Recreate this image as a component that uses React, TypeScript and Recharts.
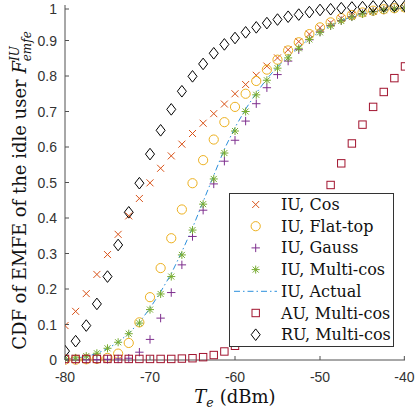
import { ComposedChart, Scatter, Line, XAxis, YAxis, Legend } from 'recharts';

// Threshold T_e (dBm) at which each CDF sample is taken
const te = [
  -80, -78.75, -77.5, -76.25, -75, -73.75, -72.5, -71.25, -70, -68.75, -67.5,
  -66.25, -65, -63.75, -62.5, -61.25, -60, -58.75, -57.5, -56.25, -55, -53.75,
  -52.5, -51.25, -50, -48.75, -47.5, -46.25, -45, -43.75, -42.5, -41.25, -40,
];

const iuCos = [
  0.097, 0.137, 0.187, 0.241, 0.297, 0.354, 0.406, 0.455, 0.499, 0.54, 0.575,
  0.608, 0.638, 0.667, 0.694, 0.721, 0.75, 0.776, 0.802, 0.828, 0.851, 0.874,
  0.897, 0.918, 0.936, 0.95, 0.962, 0.971, 0.978, 0.983, 0.987, 0.99, 0.992,
];
const iuFlatTop = [
  0.001, 0.001, 0.002, 0.003, 0.006, 0.018, 0.048, 0.106, 0.177, 0.259, 0.343,
  0.424, 0.498, 0.563, 0.621, 0.67, 0.713, 0.75, 0.786, 0.818, 0.846, 0.872,
  0.895, 0.918, 0.937, 0.951, 0.963, 0.972, 0.979, 0.984, 0.988, 0.991, 0.993,
];
const iuGauss = [
  0.0, 0.0, 0.001, 0.001, 0.002, 0.003, 0.005, 0.022, 0.058, 0.118, 0.19,
  0.268, 0.348, 0.422, 0.496, 0.56, 0.619, 0.673, 0.722, 0.767, 0.804, 0.842,
  0.874, 0.902, 0.924, 0.942, 0.956, 0.967, 0.976, 0.982, 0.986, 0.989, 0.992,
];
const iuMultiCos = [
  0.003, 0.006, 0.011, 0.019, 0.033, 0.05, 0.074, 0.104, 0.142, 0.186, 0.235,
  0.296, 0.366, 0.439, 0.51, 0.583, 0.645, 0.7, 0.747, 0.788, 0.822, 0.851,
  0.878, 0.903, 0.923, 0.941, 0.955, 0.966, 0.975, 0.981, 0.986, 0.989, 0.991,
];
const iuActual = [
  0.002, 0.005, 0.01, 0.018, 0.032, 0.05, 0.075, 0.106, 0.146, 0.192, 0.243,
  0.305, 0.372, 0.446, 0.52, 0.594, 0.655, 0.707, 0.752, 0.792, 0.826, 0.855,
  0.881, 0.905, 0.925, 0.942, 0.956, 0.967, 0.976, 0.982, 0.986, 0.989, 0.991,
];
const auMultiCos = [
  0.003, 0.003, 0.003, 0.003, 0.003, 0.003, 0.003, 0.003, 0.003, 0.003, 0.003,
  0.004, 0.005, 0.008, 0.014, 0.024, 0.04, 0.068, 0.105, 0.15, 0.2, 0.26,
  0.32, 0.385, 0.44, 0.493, 0.554, 0.61, 0.663, 0.713, 0.755, 0.794, 0.827,
];
const ruMultiCos = [
  0.025, 0.053, 0.097, 0.158, 0.235, 0.324, 0.416, 0.498, 0.58, 0.647, 0.706,
  0.757, 0.799, 0.834, 0.864, 0.889, 0.907, 0.923, 0.937, 0.949, 0.959, 0.967,
  0.973, 0.98, 0.986, 0.988, 0.991, 0.993, 0.994, 0.996, 0.997, 0.997, 0.997,
];

const xTicks = [-80, -70, -60, -50, -40];
const yTicks = [0, 0.1, 0.2, 0.3, 0.4, 0.5, 0.6, 0.7, 0.8, 0.9, 1];

const COL = {
  cos: '#D95319',
  flat: '#EDB120',
  gauss: '#7E2F8E',
  multi: '#77AC30',
  actual: '#2b8fdc',
  au: '#A2142F',
  ru: '#000000',
  axis: '#505050',
  tickText: '#333333',
};

const SERIF = '"DejaVu Serif", serif';
const SANS = '"Liberation Sans", Arial, sans-serif';

// plot box inside the 415x415 chart
const PLOT = { left: 65, top: 5, right: 405, bottom: 360 };

const toPoints = (ys: number[]) => te.map((x, i) => ({ x, y: ys[i] }));

type Pt = { cx?: number; cy?: number };

const XMark = ({ cx = 0, cy = 0 }: Pt) => (
  <path
    d={`M${cx - 3.5},${cy - 3.5}L${cx + 3.5},${cy + 3.5}M${cx - 3.5},${cy + 3.5}L${cx + 3.5},${cy - 3.5}`}
    stroke={COL.cos}
    fill="none"
  />
);
const OMark = ({ cx = 0, cy = 0 }: Pt) => (
  <circle cx={cx} cy={cy} r={4.6} stroke={COL.flat} fill="none" />
);
const PlusMark = ({ cx = 0, cy = 0 }: Pt) => (
  <path
    d={`M${cx - 4.2},${cy}L${cx + 4.2},${cy}M${cx},${cy - 4.2}L${cx},${cy + 4.2}`}
    stroke={COL.gauss}
    fill="none"
  />
);
const StarMark = ({ cx = 0, cy = 0 }: Pt) => (
  <path
    d={`M${cx - 4},${cy}L${cx + 4},${cy}M${cx},${cy - 4}L${cx},${cy + 4}M${cx - 3},${cy - 3}L${cx + 3},${cy + 3}M${cx - 3},${cy + 3}L${cx + 3},${cy - 3}`}
    stroke={COL.multi}
    fill="none"
  />
);
const SquareMark = ({ cx = 0, cy = 0 }: Pt) => (
  <rect x={cx - 3.7} y={cy - 3.7} width={7.4} height={7.4} stroke={COL.au} fill="none" />
);
const DiamondMark = ({ cx = 0, cy = 0 }: Pt) => (
  <path
    d={`M${cx},${cy - 5.8}L${cx + 4.5},${cy}L${cx},${cy + 5.8}L${cx - 4.5},${cy}Z`}
    stroke={COL.ru}
    fill="none"
  />
);

const legendRows = [
  { name: 'IU, Cos', Mark: XMark },
  { name: 'IU, Flat-top', Mark: OMark },
  { name: 'IU, Gauss', Mark: PlusMark },
  { name: 'IU, Multi-cos', Mark: StarMark },
  { name: 'IU, Actual', Mark: null },
  { name: 'AU, Multi-cos', Mark: SquareMark },
  { name: 'RU, Multi-cos', Mark: DiamondMark },
];

const LegendBox = () => (
  <svg width={165} height={154} style={{ display: 'block' }}>
    <rect x={0.5} y={0.5} width={164} height={153} fill="#fff" stroke="#333" />
    {legendRows.map(({ name, Mark }, i) => {
      const cy = 11.5 + i * 21.7;
      return (
        <g key={name}>
          {Mark ? (
            <Mark cx={26.7} cy={cy} />
          ) : (
            <line x1={5} x2={48} y1={cy} y2={cy} stroke={COL.actual} strokeDasharray="6 3 1.5 3" />
          )}
          <text x={52} y={cy + 5.5} fontFamily={SERIF} fontSize={16} fill="#111">
            {name}
          </text>
        </g>
      );
    })}
  </svg>
);

const BottomTick = ({ x, y, payload }: any) => (
  <g>
    <line x1={x} x2={x} y1={y} y2={y - 4} stroke={COL.axis} />
    <text x={x} y={y + 22} textAnchor="middle" fontFamily={SANS} fontSize={14} fill={COL.tickText}>
      {payload.value}
    </text>
  </g>
);
const TopTick = ({ x, y }: any) => <line x1={x} x2={x} y1={y} y2={y + 4} stroke={COL.axis} />;
const LeftTick = ({ x, y, payload }: any) => (
  <g>
    <line x1={x} x2={x + 4} y1={y} y2={y} stroke={COL.axis} />
    <text x={x - 8} y={y + 5} textAnchor="end" fontFamily={SANS} fontSize={14} fill={COL.tickText}>
      {String(payload.value)}
    </text>
  </g>
);
const RightTick = ({ x, y }: any) => <line x1={x} x2={x - 4} y1={y} y2={y} stroke={COL.axis} />;

const XTitle = () => {
  const cx = (PLOT.left + PLOT.right) / 2;
  return (
    <text x={cx} y={PLOT.bottom + 43} textAnchor="middle" fontFamily={SERIF} fontSize={18} fill="#111">
      <tspan fontStyle="italic">T</tspan>
      <tspan fontStyle="italic" fontSize={12.5} dy={4}>e</tspan>
      <tspan dy={-4} dx={6}>(dBm)</tspan>
    </text>
  );
};

const YTitle = () => {
  const cy = (PLOT.top + PLOT.bottom) / 2 + 8;
  const x = 26;
  return (
    <text
      x={x}
      y={cy}
      transform={`rotate(-90, ${x}, ${cy})`}
      textAnchor="middle"
      fontFamily={SERIF}
      fontSize={18}
      fill="#111"
    >
      {'CDF of EMFE of the idle user '}
      <tspan fontStyle="italic">F</tspan>
      <tspan fontStyle="italic" fontSize={12} dy={-7}>IU</tspan>
      <tspan fontStyle="italic" fontSize={12} dx={-15} dy={12}>emfe</tspan>
    </text>
  );
};

export default function App() {
  return (
    <div style={{ position: 'absolute', left: 0, top: 0, width: 415, height: 415, background: '#fff' }}>
      <ComposedChart
        width={415}
        height={415}
        margin={{ top: PLOT.top, right: 415 - PLOT.right, bottom: 0, left: 0 }}
      >
        <XAxis
          dataKey="x"
          type="number"
          domain={[-80, -40]}
          ticks={xTicks}
          height={415 - PLOT.bottom}
          tickSize={0}
          tickMargin={0}
          stroke={COL.axis}
          tick={<BottomTick />}
          label={<XTitle />}
          allowDataOverflow
        />
        <XAxis
          xAxisId="top"
          orientation="top"
          type="number"
          domain={[-80, -40]}
          ticks={xTicks}
          height={0}
          tickSize={0}
          tickMargin={0}
          stroke={COL.axis}
          tick={<TopTick />}
        />
        <YAxis
          dataKey="y"
          type="number"
          domain={[0, 1]}
          ticks={yTicks}
          width={PLOT.left}
          tickSize={0}
          tickMargin={0}
          stroke={COL.axis}
          tick={<LeftTick />}
          label={<YTitle />}
        />
        <YAxis
          yAxisId="right"
          orientation="right"
          type="number"
          domain={[0, 1]}
          ticks={yTicks}
          width={0}
          tickSize={0}
          tickMargin={0}
          stroke={COL.axis}
          tick={<RightTick />}
        />
        <Scatter name="IU, Cos" data={toPoints(iuCos)} dataKey="y" shape={(p: any) => <XMark {...p} />} isAnimationActive={false} />
        <Scatter name="IU, Flat-top" data={toPoints(iuFlatTop)} dataKey="y" shape={(p: any) => <OMark {...p} />} isAnimationActive={false} />
        <Scatter name="IU, Gauss" data={toPoints(iuGauss)} dataKey="y" shape={(p: any) => <PlusMark {...p} />} isAnimationActive={false} />
        <Scatter name="IU, Multi-cos" data={toPoints(iuMultiCos)} dataKey="y" shape={(p: any) => <StarMark {...p} />} isAnimationActive={false} />
        <Line
          name="IU, Actual"
          data={toPoints(iuActual)}
          dataKey="y"
          type="linear"
          stroke={COL.actual}
          strokeWidth={1}
          strokeDasharray="6 3 1.5 3"
          dot={false}
          activeDot={false}
          isAnimationActive={false}
        />
        <Scatter name="AU, Multi-cos" data={toPoints(auMultiCos)} dataKey="y" shape={(p: any) => <SquareMark {...p} />} isAnimationActive={false} />
        <Scatter name="RU, Multi-cos" data={toPoints(ruMultiCos)} dataKey="y" shape={(p: any) => <DiamondMark {...p} />} isAnimationActive={false} />
        <Legend
          layout="vertical"
          align="center"
          verticalAlign="middle"
          content={() => <LegendBox />}
          wrapperStyle={{ left: 229, top: 193, width: 165, height: 154 }}
        />
      </ComposedChart>
    </div>
  );
}
